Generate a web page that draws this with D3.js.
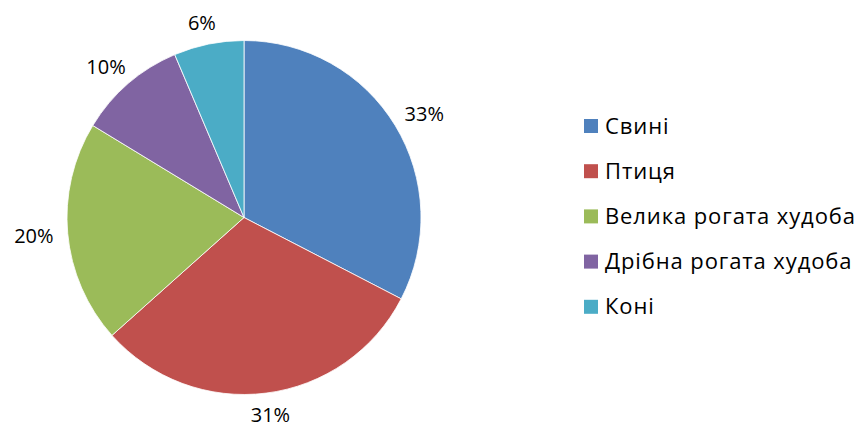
<html lang="uk">
<head>
<meta charset="utf-8">
<title>Pie</title>
<script src="https://cdn.jsdelivr.net/npm/d3@7"></script>
<style>
body { margin: 0; background: #fff; }
text { font-family: "Open Sans", "Liberation Sans", sans-serif; fill: #000; }
</style>
</head>
<body></body>
<script type="text/javascript">

var categories = ["Свині", "Птиця", "Велика рогата худоба", "Дрібна рогата худоба", "Коні"];
var values = [32.6, 30.8, 20.3, 9.9, 6.4];
var colors = ["#4F81BD", "#C0504D", "#9BBB59", "#8064A2", "#4BACC6"];

var width = 859, height = 426;
var cx = 244, cy = 217.5, radius = 177;

var svg = d3.select("body")
	.append("svg")
	.attr("width", width)
	.attr("height", height);

/*********************************************************************/
// Pie

var pie = d3.pie().sort(null).value(function(d) { return d; });
var arcs = pie(values);

var arc = d3.arc().innerRadius(0).outerRadius(radius);
var gap = 13, hw = 21, hh = 9;

function labelPos(d){
	var a = (d.startAngle + d.endAngle) / 2;
	var s = Math.sin(a), c = Math.cos(a);
	var x = (radius + gap) * s + hw * s;
	var y = -(radius + gap) * c - hh * c;
	return [x, y];
}

var g = svg.append("g")
	.attr("transform", "translate(" + cx + "," + cy + ")");

g.selectAll("path")
	.data(arcs)
	.enter()
	.append("path")
	.attr("d", arc)
	.style("fill", function(d, i) { return colors[i]; })
	.style("stroke", "#fff")
	.style("stroke-width", 0.8);

g.selectAll("text.lbl")
	.data(arcs)
	.enter()
	.append("text")
	.attr("class", "lbl")
	.attr("transform", function(d) { return "translate(" + labelPos(d) + ")"; })
	.attr("text-anchor", "middle")
	.attr("dy", "0.36em")
	.style("font-size", "20px")
	.text(function(d) { return Math.round(d.value) + "%"; });

/*********************************************************************/
// Legend

var legend = svg.append("g")
	.attr("transform", "translate(584,126)");

var item = legend.selectAll("g")
	.data(categories)
	.enter()
	.append("g")
	.attr("transform", function(d, i) { return "translate(0," + (i * 45.2) + ")"; });

item.append("rect")
	.attr("x", 0)
	.attr("y", -7)
	.attr("width", 14)
	.attr("height", 14)
	.style("fill", function(d, i) { return colors[i]; });

item.append("text")
	.attr("x", 21)
	.attr("y", 7.5)
	.style("font-size", "22px")
	.style("letter-spacing", "0.9px")
	.text(function(d) { return d; });

</script>
</html>
